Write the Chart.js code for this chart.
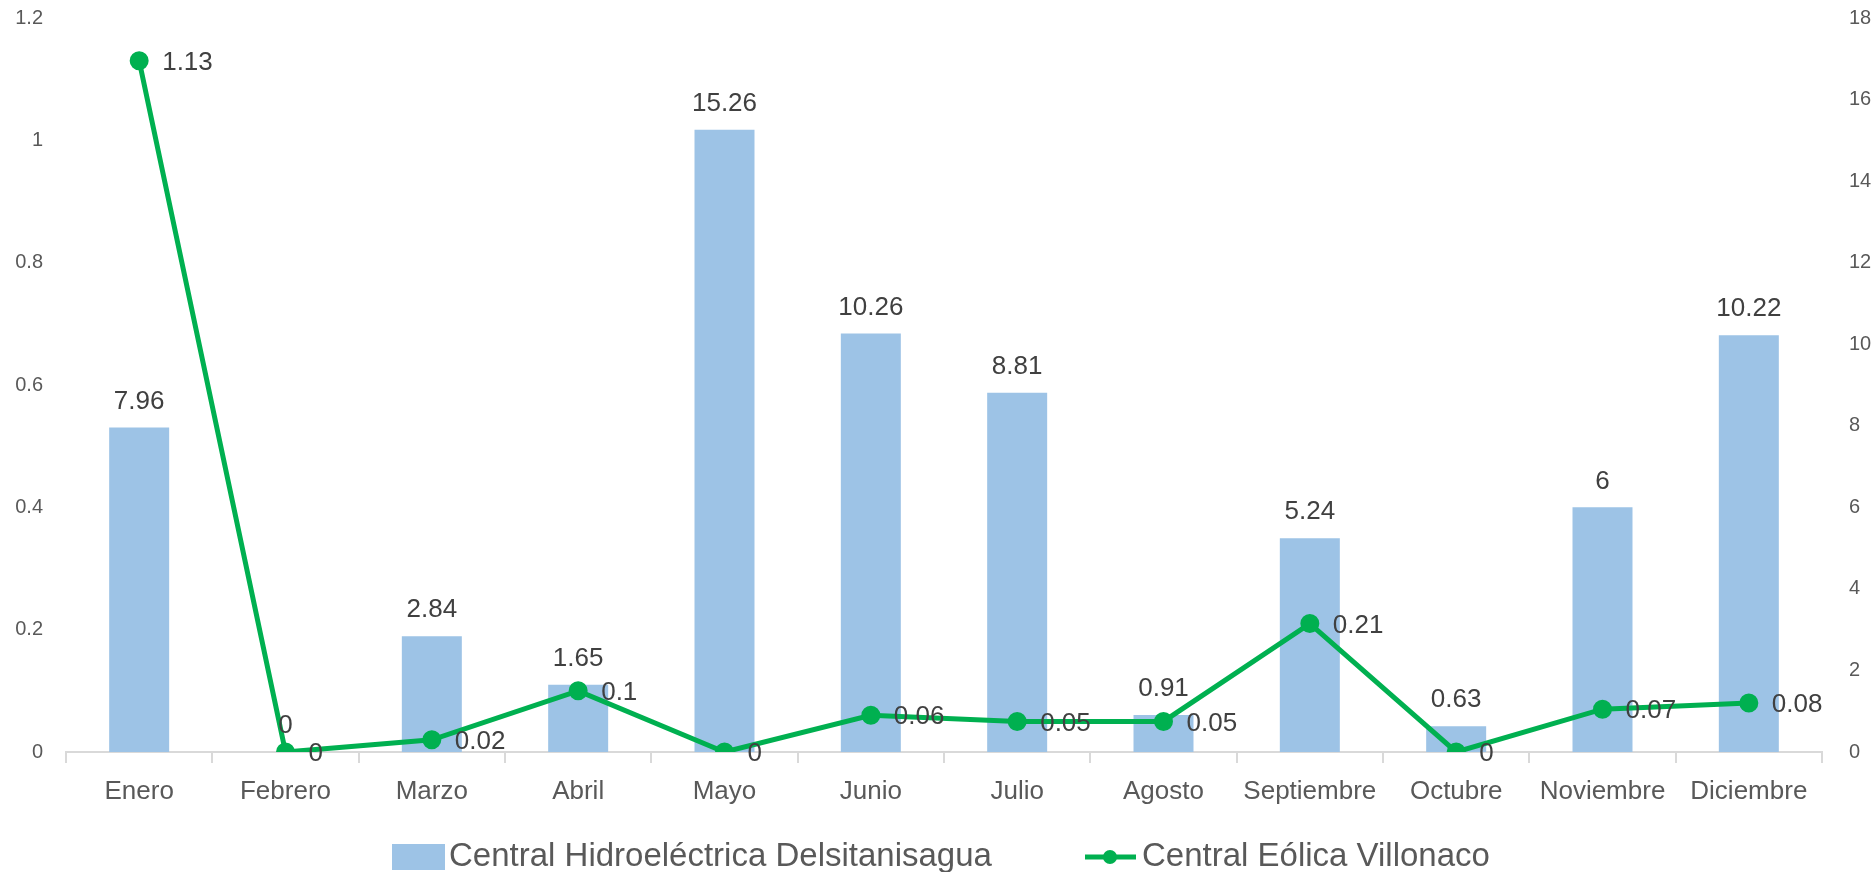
<!DOCTYPE html>
<html>
<head>
<meta charset="utf-8">
<script src="https://cdn.jsdelivr.net/npm/chart.js@4"></script>
<style>
  html, body { margin: 0; padding: 0; background: #ffffff; }
  #wrap { width: 1875px; height: 872px; }
</style>
</head>
<body>
<div id="wrap"><canvas id="chart" width="1875" height="872"></canvas></div>
<script>
const months = ["Enero", "Febrero", "Marzo", "Abril", "Mayo", "Junio", "Julio", "Agosto", "Septiembre", "Octubre", "Noviembre", "Diciembre"];
const hidro = [7.96, 0, 2.84, 1.65, 15.26, 10.26, 8.81, 0.91, 5.24, 0.63, 6, 10.22];
const eolica = [1.13, 0, 0.02, 0.1, 0, 0.06, 0.05, 0.05, 0.21, 0, 0.07, 0.08];
const leftTicks = ["0", "0.2", "0.4", "0.6", "0.8", "1", "1.2"];
const rightTicks = ["0", "2", "4", "6", "8", "10", "12", "14", "16", "18"];
const seriesNames = ["Central Hidroeléctrica Delsitanisagua", "Central Eólica Villonaco"];

const FONT = "'Liberation Sans', Arial, sans-serif";
const barColor = "#9DC3E6";
const lineColor = "#00B050";

// data labels like Excel: above bars, right of points
const labelsPlugin = {
    id: "valueLabels",
    afterDatasetsDraw(chart) {
        const ctx = chart.ctx;
        ctx.save();
        ctx.fillStyle = "#404040";
        ctx.font = "26px " + FONT;
        const bars = chart.getDatasetMeta(0).data;
        ctx.textAlign = "center";
        ctx.textBaseline = "bottom";
        bars.forEach((el, i) => {
            ctx.fillText(String(hidro[i]), el.x, el.y - 13);
        });
        const pts = chart.getDatasetMeta(1).data;
        ctx.textAlign = "left";
        ctx.textBaseline = "middle";
        pts.forEach((el, i) => {
            ctx.fillText(String(eolica[i]), el.x + 23, el.y + 2);
        });
        ctx.restore();
    }
};

// legend drawn by hand so the line entry gets line + marker
const legendPlugin = {
    id: "customLegend",
    afterDraw(chart) {
        const ctx = chart.ctx;
        const y = 857;
        ctx.save();
        ctx.fillStyle = barColor;
        ctx.fillRect(392, 844, 53, 26);
        ctx.strokeStyle = lineColor;
        ctx.lineWidth = 5;
        ctx.beginPath();
        ctx.moveTo(1085, y);
        ctx.lineTo(1136, y);
        ctx.stroke();
        ctx.fillStyle = lineColor;
        ctx.beginPath();
        ctx.arc(1110, y, 7, 0, Math.PI * 2);
        ctx.fill();
        ctx.fillStyle = "#595959";
        ctx.font = "33px " + FONT;
        ctx.textAlign = "left";
        ctx.textBaseline = "middle";
        ctx.fillText(seriesNames[0], 449, y);
        ctx.fillText(seriesNames[1], 1142, y);
        ctx.restore();
    }
};

new Chart(document.getElementById("chart"), {
    type: "bar",
    data: {
        labels: months,
        datasets: [
            {
                type: "bar",
                label: seriesNames[0],
                data: hidro,
                backgroundColor: barColor,
                yAxisID: "yR",
                categoryPercentage: 1,
                barPercentage: 0.41,
                order: 2
            },
            {
                type: "line",
                label: seriesNames[1],
                data: eolica,
                borderColor: lineColor,
                backgroundColor: lineColor,
                borderWidth: 5,
                pointRadius: 7,
                pointHoverRadius: 7,
                tension: 0,
                yAxisID: "yL",
                order: 1
            }
        ]
    },
    options: {
        responsive: false,
        animation: false,
        layout: { padding: { top: 18, bottom: 60, left: 0, right: 0 } },
        plugins: {
            legend: { display: false },
            tooltip: { enabled: false }
        },
        scales: {
            x: {
                offset: true,
                grid: {
                    offset: true,
                    drawOnChartArea: false,
                    drawTicks: true,
                    tickLength: 11,
                    color: "#D9D9D9",
                    lineWidth: 2
                },
                border: { color: "#D9D9D9", width: 2 },
                ticks: { color: "#595959", font: { family: FONT, size: 26 }, padding: 13 },
                afterFit(s) { s.height = 60; s.paddingLeft = 0; s.paddingRight = 0; }
            },
            yL: {
                position: "left",
                min: 0,
                max: 1.2,
                grid: { display: false },
                border: { display: false },
                ticks: {
                    stepSize: 0.2,
                    color: "#595959",
                    font: { family: FONT, size: 20 },
                    padding: 15,
                    callback: (v, i) => leftTicks[i]
                },
                afterFit(s) { s.width = 66; s.paddingTop = 0; s.paddingBottom = 0; }
            },
            yR: {
                position: "right",
                min: 0,
                max: 18,
                grid: { display: false },
                border: { display: false },
                ticks: {
                    stepSize: 2,
                    color: "#595959",
                    font: { family: FONT, size: 20 },
                    padding: 19,
                    callback: (v, i) => rightTicks[i]
                },
                afterFit(s) { s.width = 53; s.paddingTop = 0; s.paddingBottom = 0; }
            }
        }
    },
    plugins: [labelsPlugin, legendPlugin]
});
</script>
</body>
</html>
